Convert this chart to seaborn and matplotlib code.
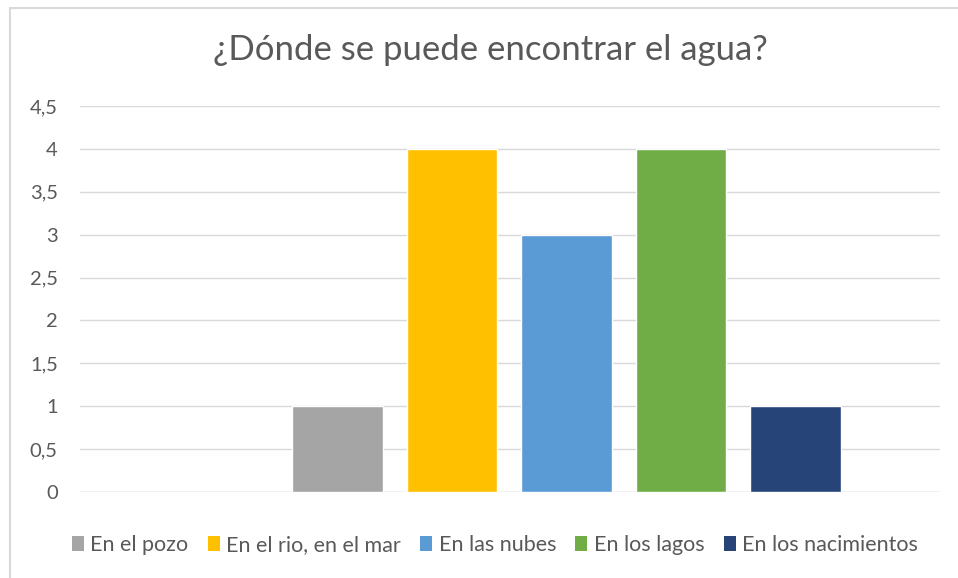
import matplotlib
matplotlib.use("Agg")
import matplotlib.pyplot as plt
from matplotlib.patches import Patch
from matplotlib.lines import Line2D
import pandas as pd
import seaborn as sns

TITLE = "¿Dónde se puede encontrar el agua?"
CATEGORIES = ["En el pozo", "En el rio, en el mar", "En las nubes",
              "En los lagos", "En los nacimientos"]
VALUES = [1, 4, 3, 4, 1]
COLORS = ["#a5a5a5", "#ffc000", "#5b9bd5", "#70ad47", "#264478"]
YTICKS = [0, 0.5, 1, 1.5, 2, 2.5, 3, 3.5, 4, 4.5]

sns.set_style("white")
plt.rcParams["font.family"] = ["Lato", "DejaVu Sans"]

TXT = "#595959"

df = pd.DataFrame({"cat": CATEGORIES, "val": VALUES})

fig = plt.figure(figsize=(9.58, 5.78), dpi=100)
ax = fig.add_axes([80 / 958, 86 / 578, 860 / 958, 386 / 578])

sns.barplot(data=df, x="cat", y="val", hue="cat", palette=COLORS,
            order=CATEGORIES, hue_order=CATEGORIES, width=0.79,
            dodge=False, legend=False, saturation=1, ax=ax, zorder=3)

ax.set_xlim(-2.25, 5.26)
ax.set_ylim(0, 4.5)
ax.set_yticks(YTICKS)
ax.set_yticklabels([f"{t:g}".replace(".", ",") for t in YTICKS],
                   color=TXT, fontsize=14.5)
ax.set_xticks([])
ax.set_xlabel("")
ax.set_ylabel("")
ax.tick_params(axis="y", length=0, pad=16)
for s in ax.spines.values():
    s.set_visible(False)
ax.grid(axis="y", color="#d9d9d9", linewidth=1, zorder=0)
ax.axhline(0, color="#d9d9d9", linewidth=1, zorder=1)

fig.text(490 / 958, 1 - 50 / 578, TITLE, ha="center", va="center",
         fontsize=25, color=TXT)

handles = [Patch(facecolor=c, edgecolor="none") for c in COLORS]
fig.legend(handles, CATEGORIES, loc="center", ncol=5,
           bbox_to_anchor=(495 / 958, 1 - 545 / 578), frameon=False,
           fontsize=15.5, labelcolor=TXT, handlelength=0.55, handleheight=0.75,
           handletextpad=0.3, columnspacing=0.9)

# chart frame edges (top and left only)
fig.add_artist(Line2D([9.5 / 958, 1], [1 - 8 / 578, 1 - 8 / 578],
                      color="#d9d9d9", linewidth=1.5))
fig.add_artist(Line2D([9.5 / 958, 9.5 / 958], [0, 1 - 8 / 578],
                      color="#d9d9d9", linewidth=1.5))

fig.savefig("out.png", dpi=100)
